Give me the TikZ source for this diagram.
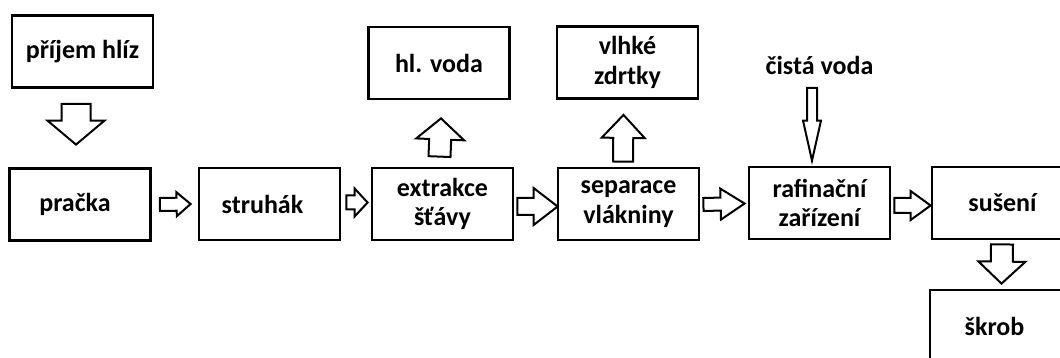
\documentclass[tikz,border=0pt]{standalone}
\usepackage{fontspec}
\setmainfont{Carlito}
\usetikzlibrary{calc}

% hollow block arrow: start, tip, shaft half width, head half width, head length (pt)
\newcommand{\blockarrow}[5]{%
    \coordinate (hb) at ($(#2)!#5pt!(#1)$);
    \draw[arrowline] ($(#1)!#3pt!90:(#2)$) -- ($(hb)!#3pt!-90:(#1)$)
        -- ($(hb)!#4pt!-90:(#1)$) -- (#2) -- ($(hb)!#4pt!90:(#1)$)
        -- ($(hb)!#3pt!90:(#1)$) -- ($(#1)!#3pt!-90:(#2)$) -- cycle;
}

\tikzset{
    box/.style={draw, line width=2.8pt, minimum width=141pt, minimum height=72pt,
        align=center, inner sep=0pt, font=\fontsize{26}{29.5}\selectfont\bfseries},
    label/.style={font=\fontsize{26}{29.5}\selectfont\bfseries},
    arrowline/.style={draw, fill=white, line width=2pt, line join=miter},
}

\begin{document}
\begin{tikzpicture}[x=1pt, y=-1pt]

    \clip (0,0) rectangle (1060,358);

    % --- Boxes ---
    \node[box] (prijem)    at (82.5, 51.5)  {příjem hlíz};
    \node[box] (pracka)    at (80, 204.5)   {pračka\hspace{10pt}};
    \node[box] (struhak)   at (269.5, 204)  {struhák\hspace{14pt}};
    \node[box] (extrakce)  at (442.5, 204)  {extrakce\\šťávy};
    \node[box] (separace)  at (628.5, 204)  {separace\\vlákniny};
    \node[box] (rafinace)  at (819.5, 203)  {rafinační\\zařízení};
    \node[box] (suseni)    at (1002.5, 203) {sušení};
    \node[box] (skrob)     at (1000.5, 326) {\raisebox{-4pt}{škrob}\hspace{12pt}};
    \node[box] (hlvoda)    at (439, 63)     {hl. voda};
    \node[box] (zdrtky)    at (627.5, 62.5) {vlhké\\zdrtky};
    \node[label] (cista)   at (819.5, 65)   {čistá voda};

    % --- Arrow ends ---
    \coordinate (a1s) at ([shift={(-6.5,15)}]prijem.south);
    \coordinate (a1e) at ([shift={(-4,-22.5)}]pracka.north);
    \coordinate (a2s) at ([shift={(8,0)}]pracka.east);
    \coordinate (a2e) at ([shift={(-7,0)}]struhak.west);
    \coordinate (a3s) at ([shift={(5,-1.5)}]struhak.east);
    \coordinate (a3e) at ([shift={(-3,-1.5)}]extrakce.west);
    \coordinate (a4s) at ([shift={(3,2.5)}]extrakce.east);
    \coordinate (a4e) at ([shift={(1,2.5)}]separace.west);
    \coordinate (a5s) at ([shift={(3,0.5)}]separace.east);
    \coordinate (a5e) at ([shift={(-3,0.5)}]rafinace.west);
    \coordinate (a6s) at ([shift={(3,2.5)}]rafinace.east);
    \coordinate (a6e) at ([shift={(0,2.5)}]suseni.west);
    \coordinate (a7s) at ([shift={(-3,-10)}]extrakce.north);
    \coordinate (a7e) at ([shift={(2,18)}]hlvoda.south);
    \coordinate (a8s) at ([shift={(-5.5,-5)}]separace.north);
    \coordinate (a8e) at ([shift={(-4,15)}]zdrtky.south);
    \coordinate (a9s) at ([shift={(-7.5,23)}]cista.center);
    \coordinate (a9e) at ([shift={(-7.5,-5)}]rafinace.north);
    \coordinate (a10s) at ([shift={(-0.5,4)}]suseni.south);
    \coordinate (a10e) at ([shift={(1,-5)}]skrob.north);

    % --- Block arrows ---
    \blockarrow{a1s}{a1e}{14.5}{28.5}{24}
    \blockarrow{a2s}{a2e}{6.5}{12}{14}
    \blockarrow{a3s}{a3e}{7}{14}{13}
    \blockarrow{a4s}{a4e}{8.5}{18.5}{24}
    \blockarrow{a5s}{a5e}{6.5}{15.5}{24}
    \blockarrow{a6s}{a6e}{7.5}{14.5}{20}
    \blockarrow{a7s}{a7e}{11}{24}{21}
    \blockarrow{a8s}{a8e}{10}{21.5}{23}
    \blockarrow{a9s}{a9e}{5}{9}{40}
    \blockarrow{a10s}{a10e}{11}{23.5}{22}

\end{tikzpicture}
\end{document}
